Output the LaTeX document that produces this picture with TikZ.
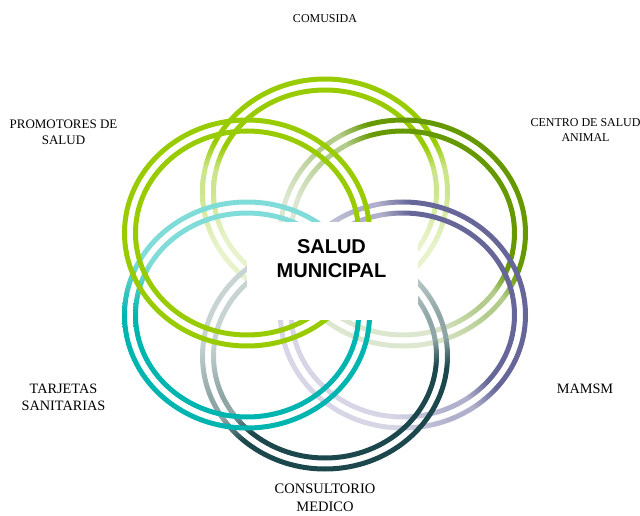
\documentclass[tikz,border=0pt]{standalone}
\usepackage{fontspec}
\setmainfont{Liberation Serif}
\newfontfamily\titlefont{Liberation Sans}
\definecolor{vert}{HTML}{99CC00}
\definecolor{vertclair}{HTML}{CDE68C}
\definecolor{vertpale}{HTML}{E8F3CC}
\definecolor{olivier}{HTML}{669900}
\definecolor{olivierclair}{HTML}{B3CC8C}
\definecolor{olivierpale}{HTML}{DDE7CF}
\definecolor{mauve}{HTML}{666699}
\definecolor{mauveclair}{HTML}{B0B0CC}
\definecolor{mauvepale}{HTML}{D6D6E6}
\definecolor{petrole}{HTML}{1B474D}
\definecolor{petroleclair}{HTML}{8FA5A6}
\definecolor{petrolepale}{HTML}{C8D4D4}
\definecolor{turquoise}{HTML}{00B5B0}
\definecolor{turquoiseclair}{HTML}{80DCD8}
\colorlet{teinteA}{black}
\colorlet{teinteB}{gray}
\colorlet{teinteC}{white}
\pgfdeclareverticalshading[teinteA,teinteB,teinteC]{anneaushade}{100bp}{color(0bp)=(teinteC); color(38bp)=(teinteC); color(50bp)=(teinteB); color(55bp)=(teinteB); color(61bp)=(teinteA); color(100bp)=(teinteA)}

\begin{document}
\begin{tikzpicture}[x=1pt,y=1pt]
\tikzset{anneau/.style n args={4}{even odd rule, /utils/exec={\colorlet{teinteA}{#1}\colorlet{teinteB}{#2}\colorlet{teinteC}{#3}}, shading=anneaushade, shading angle=#4}}
\tikzset{etiquette/.style 2 args={font=\fontsize{#1}{#2}\selectfont, align=center, inner sep=0pt}}
\tikzset{cadre/.style={fill=white, minimum width=171pt, minimum height=98pt, inner sep=0pt}}
\tikzset{titre/.style={font=\fontsize{20}{24}\selectfont\titlefont\bfseries, align=center, inner sep=0pt}}
\useasboundingbox (0,0) rectangle (640,515);
\coordinate (A1) at (325,323);
\coordinate (A2) at (403,282);
\coordinate (A3) at (403,200);
\coordinate (A4) at (325,159);
\coordinate (A5) at (247,200);
\coordinate (A6) at (247,282);
\shade[anneau={vert}{vertclair}{vertpale}{0}] (A1) ellipse (125 and 115.5) (A1) ellipse (120 and 110.5);
\shade[anneau={vert}{vertclair}{vertpale}{0}] (A1) ellipse (114 and 104.5) (A1) ellipse (109 and 99.5);
\shade[anneau={olivier}{olivierclair}{olivierpale}{-45}] (A2) ellipse (125 and 115.5) (A2) ellipse (120 and 110.5);
\shade[anneau={olivier}{olivierclair}{olivierpale}{-45}] (A2) ellipse (114 and 104.5) (A2) ellipse (109 and 99.5);
\shade[anneau={mauve}{mauveclair}{mauvepale}{-65}] (A3) ellipse (125 and 115.5) (A3) ellipse (120 and 110.5);
\shade[anneau={mauve}{mauveclair}{mauvepale}{-65}] (A3) ellipse (114 and 104.5) (A3) ellipse (109 and 99.5);
\shade[anneau={petrole}{petroleclair}{petrolepale}{-160}] (A4) ellipse (125 and 115.5) (A4) ellipse (120 and 110.5);
\shade[anneau={petrole}{petroleclair}{petrolepale}{-160}] (A4) ellipse (114 and 104.5) (A4) ellipse (109 and 99.5);
\shade[anneau={turquoise}{turquoise}{turquoiseclair}{180}] (A5) ellipse (125 and 115.5) (A5) ellipse (120 and 110.5);
\shade[anneau={turquoise}{turquoise}{turquoiseclair}{180}] (A5) ellipse (114 and 104.5) (A5) ellipse (109 and 99.5);
\draw[vert, line width=5pt] (A6) ellipse (122.5 and 113);
\draw[vert, line width=5pt] (A6) ellipse (111.5 and 102);
\node[cadre] (B) at (332.5,244) {};
\node[titre] (SM) at (331.5,256) {SALUD\\MUNICIPAL};
\node[etiquette={12}{15}] (COM) at (325,496.2) {COMUSIDA};
\node[etiquette={13}{16}] (PRO) at (63.5,382.7) {PROMOTORES DE\\SALUD};
\node[etiquette={12}{15}] (CSA) at (585.5,384.5) {CENTRO DE SALUD\\ANIMAL};
\node[etiquette={14.3}{17}] (TAR) at (63.5,118) {TARJETAS\\SANITARIAS};
\node[etiquette={14.3}{17}] (MAM) at (585,126) {MAMSM};
\node[etiquette={14.5}{18}] (CON) at (325,17) {CONSULTORIO\\MEDICO};
\end{tikzpicture}
\end{document}
